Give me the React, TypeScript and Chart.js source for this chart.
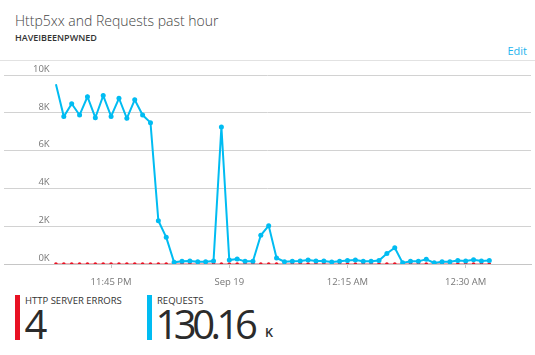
import React, { useEffect, useRef } from "react";
import { Chart, registerables } from "chart.js";

Chart.register(...registerables);

// Requests per minute starting 11:38 PM (index 0), in requests
const requests = [
  9510, 7800, 8480, 7880, 8850, 7740, 8910, 7810, 8770, 7710, 8690, 7880, 7480,
  2290, 1410, 90, 140, 160, 120, 120, 160, 7250, 210, 260, 140, 140, 1520, 2030,
  320, 120, 140, 160, 210, 160, 160, 110, 140, 190, 210, 140, 140, 180, 560, 860,
  60, 140, 140, 250, 60, 120, 120, 180, 160, 230, 160, 180,
];

// HTTP 5xx errors per minute (same minutes)
const errors = [
  0, 0, 0, 0, 0, 0, 0, 0, 0, 0, 0, 0, 0, 1, 1, 0, 0, 0, 0, 0, 0, 1, 0, 0, 0, 0, 0, 1,
  0, 0, 0, 0, 0, 0, 0, 0, 0, 0, 0, 0, 0, 0, 0, 0, 0, 0, 0, 0, 0, 0, 0, 0, 0, 0, 0, 0,
];

// x tick positions (minute index) and their labels
const xTickIndex = [7, 22, 37, 52];
const xTickLabels = ["11:45 PM", "Sep 19", "12:15 AM", "12:30 AM"];

const yTicks = [0, 2000, 4000, 6000, 8000, 10000];

const title = "Http5xx and Requests past hour";
const subtitle = "HAVEIBEENPWNED";
const errorsLabel = "HTTP SERVER ERRORS";
const errorsTotal = "4";
const requestsLabel = "REQUESTS";
const requestsTotal = "130.16";
const requestsUnit = "K";

const BLUE = "#00bcf2";
const RED = "#e81123";
const FONT = "'Segoe UI', 'Open Sans', sans-serif";

function zeroPadding(scale: any) {
  scale.paddingTop = 0;
  scale.paddingBottom = 0;
  scale.paddingLeft = 0;
  scale.paddingRight = 0;
}

function ChartCanvas() {
  const ref = useRef<HTMLCanvasElement | null>(null);
  useEffect(() => {
    if (!ref.current) return;
    const chart = new Chart(ref.current, {
      type: "line",
      data: {
        datasets: [
          {
            label: "Requests",
            data: requests.map((v, i) => ({ x: i, y: v })),
            borderColor: BLUE,
            backgroundColor: BLUE,
            borderWidth: 2,
            pointRadius: (ctx: any) => (ctx.dataIndex === 0 ? 0 : 2.5),
            pointBorderWidth: 0,
            pointBackgroundColor: BLUE,
            tension: 0,
          },
          {
            label: "Http 5xx",
            data: errors.map((v, i) => ({ x: i, y: v })),
            borderColor: "rgba(232,17,35,0.75)",
            backgroundColor: RED,
            borderWidth: 1.2,
            pointRadius: 1.8,
            pointBorderWidth: 0,
            pointBackgroundColor: RED,
            tension: 0,
          },
        ],
      },
      options: {
        animation: false,
        responsive: false,
        maintainAspectRatio: false,
        layout: { padding: { top: 15, left: 0, right: 0, bottom: 0 } },
        plugins: { legend: { display: false }, tooltip: { enabled: false } },
        scales: {
          x: {
            type: "linear",
            min: -6.59,
            max: 60.29,
            grid: {
              drawOnChartArea: false,
              drawTicks: true,
              tickLength: 4,
              color: "#c6c6c6",
            },
            border: { display: true, color: "#c6c6c6" },
            ticks: {
              padding: 9,
              maxRotation: 0,
              autoSkip: false,
              color: "#777",
              font: { family: FONT, size: 9.5 },
              callback: (v: any) => {
                const k = xTickIndex.indexOf(Number(v));
                return k >= 0 ? xTickLabels[k] : "";
              },
            },
            afterBuildTicks: (scale: any) => {
              scale.ticks = xTickIndex.map((v) => ({ value: v }));
            },
            afterFit: (scale: any) => {
              scale.height = 30;
              zeroPadding(scale);
            },
          },
          y: {
            min: 0,
            max: 10000,
            grid: { drawTicks: false, color: "#d2d2d2" },
            border: { display: false },
            ticks: {
              mirror: true,
              crossAlign: "far",
              padding: 29,
              labelOffset: -6,
              color: "#777",
              font: { family: FONT, size: 9.5 },
              callback: (v: any) => Number(v) / 1000 + "K",
            },
            afterBuildTicks: (scale: any) => {
              scale.ticks = yTicks.map((v) => ({ value: v }));
            },
            afterFit: (scale: any) => {
              scale.width = 0;
              zeroPadding(scale);
            },
          },
        },
      },
    } as any);
    return () => chart.destroy();
  }, []);
  return (
    <canvas
      ref={ref}
      width={535}
      height={234}
      style={{ position: "absolute", left: 0, top: 60, width: 535, height: 234 }}
    />
  );
}

export default function App() {
  const abs = (o: React.CSSProperties): React.CSSProperties => ({
    position: "absolute",
    lineHeight: 1,
    whiteSpace: "nowrap",
    fontFamily: FONT,
    ...o,
  });
  return (
    <div
      style={{
        position: "fixed",
        left: 0,
        top: 0,
        width: 535,
        height: 355,
        background: "#fff",
        overflow: "hidden",
      }}
    >
      <div style={abs({ left: 15, top: 13.6, fontSize: 14, fontWeight: 300, color: "#444" })}>{title}</div>
      <div style={abs({ left: 15, top: 33, fontSize: 9, fontWeight: 600, color: "#333" })}>{subtitle}</div>
      <div style={abs({ right: 8, top: 44.5, fontSize: 11, color: "#1cb4ee" })}>Edit</div>
      <div style={{ position: "absolute", left: 0, top: 60, width: 535, height: 1, background: "#e2e2e2" }} />
      <ChartCanvas />

      <div style={{ position: "absolute", left: 15, top: 295, width: 4.5, height: 44.5, background: RED }} />
      <div style={abs({ left: 25, top: 295.6, fontSize: 9.5, color: "#333" })}>{errorsLabel}</div>
      <div style={abs({ left: 24.5, top: 303.8, fontSize: 40, fontWeight: 400, color: "#2b2b2b", letterSpacing: -3 })}>
        {errorsTotal}
      </div>

      <div style={{ position: "absolute", left: 147, top: 295, width: 4.5, height: 44.5, background: BLUE }} />
      <div style={abs({ left: 157, top: 295.6, fontSize: 9.5, color: "#333" })}>{requestsLabel}</div>
      <div style={abs({ left: 155.5, top: 303.8, fontSize: 40, fontWeight: 400, color: "#2b2b2b", letterSpacing: -4.5 })}>
        {requestsTotal}
      </div>
      <div style={abs({ left: 265, top: 327.1, fontSize: 12.6, fontWeight: 600, color: "#2b2b2b" })}>{requestsUnit}</div>
    </div>
  );
}
